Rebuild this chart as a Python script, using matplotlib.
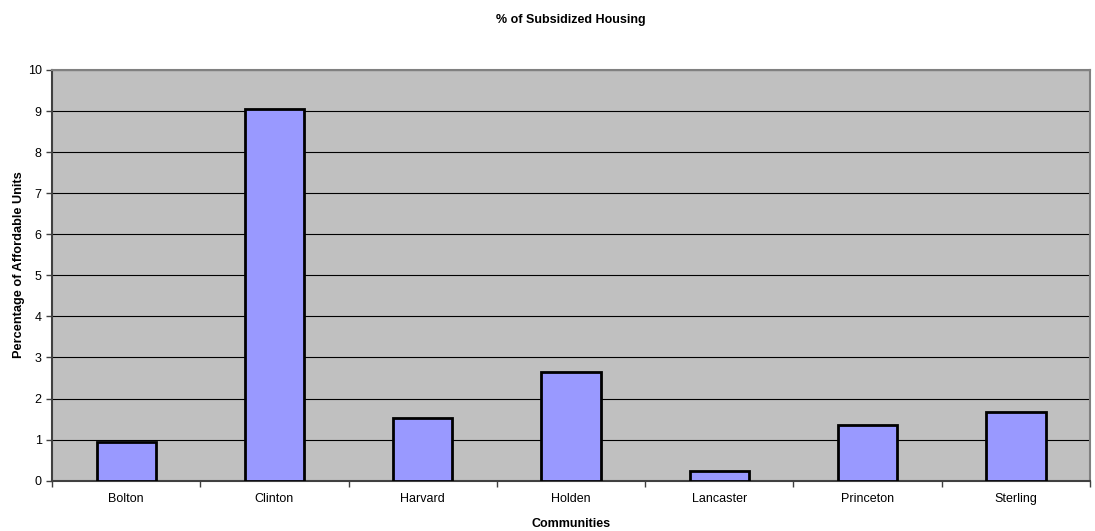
import numpy as np
import matplotlib.pyplot as plt

plt.rcParams['font.family'] = ['Liberation Sans', 'DejaVu Sans']

# Share of subsidized housing by community
communities = ['Bolton', 'Clinton', 'Harvard', 'Holden', 'Lancaster', 'Princeton', 'Sterling']
pct_affordable = [0.95, 9.05, 1.52, 2.65, 0.24, 1.35, 1.68]

fig = plt.figure(figsize=(10.95, 5.31), dpi=100)
ax = fig.add_axes([0.0475, 0.0947, 0.948, 0.7735])
ax.set_facecolor('#C0C0C0')

x = np.arange(len(communities))
ax.bar(x, pct_affordable, width=0.4, color='#9999FF', edgecolor='black', linewidth=2, zorder=3)

ax.set_xlim(-0.5, len(communities) - 0.5)
ax.set_ylim(0, 10)
ax.set_yticks(range(0, 11))
ax.yaxis.grid(True, color='black', linewidth=0.8, zorder=1)

# category labels centered, ticks on the category boundaries
ax.set_xticks(x)
ax.set_xticklabels(communities, fontsize=9)
ax.tick_params(axis='x', which='major', length=0, pad=9)
ax.set_xticks(np.arange(-0.5, len(communities)), minor=True)
ax.tick_params(axis='x', which='minor', length=4, width=1, color='#404040')
ax.tick_params(axis='y', labelsize=9, length=4, width=1, color='#404040')

for side in ['left', 'bottom']:
    ax.spines[side].set_color('#404040')
    ax.spines[side].set_linewidth(1.5)
for side in ['top', 'right']:
    ax.spines[side].set_color('#808080')
    ax.spines[side].set_linewidth(1.5)

ax.set_title('% of Subsidized Housing', fontsize=9, fontweight='bold', pad=34)
ax.set_xlabel('Communities', fontsize=9, fontweight='bold', labelpad=9)
ax.set_ylabel('Percentage of Affordable Units', fontsize=9.2, fontweight='bold')
ax.yaxis.set_label_coords(-0.026, 0.525)

fig.savefig('out.png', dpi=100)
